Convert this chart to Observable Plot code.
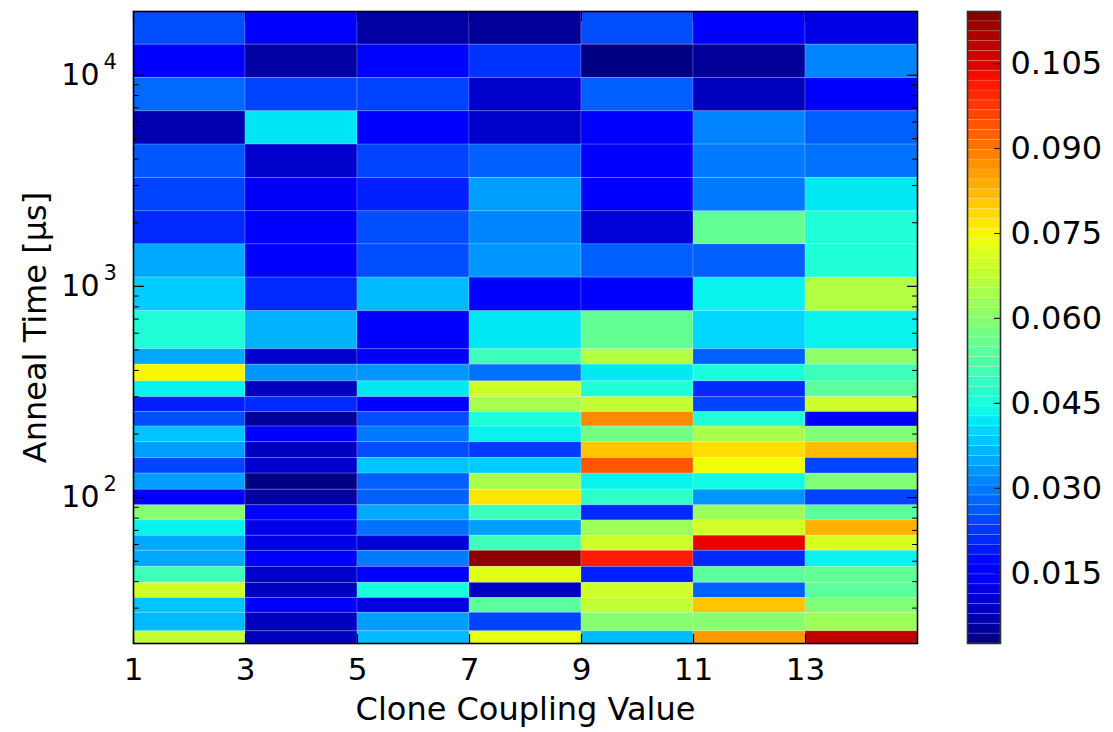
<!DOCTYPE html>
<html>
<head>
<meta charset="utf-8">
<script src="https://cdn.jsdelivr.net/npm/d3@7"></script>
<script src="https://cdn.jsdelivr.net/npm/@observablehq/plot@0.6"></script>
<style>
  html, body { margin: 0; padding: 0; background: #fff; }
  #wrap { position: relative; width: 1113px; height: 732px; overflow: hidden; font-family: "DejaVu Sans", sans-serif; }
  #main { position: absolute; left: 0; top: 0; }
  #cbar { position: absolute; left: 950px; top: 0; }
</style>
</head>
<body>
<div id="wrap"><div id="main"></div><div id="cbar"></div></div>
<script>
// ---- data ----
const xEdges = [1, 3, 5, 7, 9, 11, 13, 15];           // Clone Coupling Value bins
const xTicks = [1, 3, 5, 7, 9, 11, 13];
// Anneal time bin edges (µs), top -> bottom
const yEdges = [20000, 13930, 9690, 6740, 4690, 3260, 2265, 1580, 1100, 763, 504, 426, 355, 299, 254,
                217, 183, 154, 130, 109, 92, 78, 66, 56, 47, 39.5, 33.5, 28.5, 23.3, 20.4];
const yMajor = [100, 1000, 10000];
const yExp = ["2", "3", "4"];
const yMinor = [30, 40, 50, 60, 70, 80, 90, 200, 300, 400, 500, 600, 700, 800, 900,
                2000, 3000, 4000, 5000, 6000, 7000, 8000, 9000];
// cell values per column (rows top -> bottom)
const col1 = [0.025, 0.015, 0.028, 0.0073, 0.026, 0.024, 0.021, 0.035, 0.039, 0.046, 0.035, 0.075, 0.043, 0.020, 0.025, 0.038, 0.034, 0.024, 0.034, 0.016, 0.060, 0.043, 0.035, 0.035, 0.050, 0.0696, 0.038, 0.037, 0.068];
const col2 = [0.016, 0.006, 0.024, 0.0417, 0.010, 0.014, 0.015, 0.016, 0.021, 0.036, 0.010, 0.033, 0.0087, 0.021, 0.005, 0.016, 0.0087, 0.010, 0.003, 0.006, 0.015, 0.0126, 0.0126, 0.015, 0.010, 0.0087, 0.015, 0.0087, 0.0087];
const col3 = [0.006, 0.017, 0.024, 0.015, 0.024, 0.020, 0.025, 0.025, 0.037, 0.015, 0.016, 0.033, 0.042, 0.016, 0.025, 0.030, 0.025, 0.038, 0.027, 0.027, 0.035, 0.029, 0.011, 0.030, 0.015, 0.045, 0.012, 0.034, 0.037];
const col4 = [0.005, 0.022, 0.010, 0.010, 0.027, 0.034, 0.031, 0.033, 0.016, 0.042, 0.050, 0.029, 0.0696, 0.0645, 0.046, 0.043, 0.023, 0.039, 0.0645, 0.077, 0.050, 0.034, 0.050, 0.113, 0.072, 0.009, 0.054, 0.024, 0.073];
const col5 = [0.025, 0.003, 0.027, 0.016, 0.015, 0.015, 0.011, 0.027, 0.016, 0.055, 0.066, 0.042, 0.046, 0.068, 0.088, 0.057, 0.081, 0.094, 0.043, 0.048, 0.021, 0.063, 0.0696, 0.101, 0.020, 0.0696, 0.068, 0.060, 0.037];
const col6 = [0.016, 0.005, 0.0087, 0.031, 0.030, 0.030, 0.055, 0.027, 0.043, 0.040, 0.027, 0.045, 0.021, 0.024, 0.046, 0.0645, 0.078, 0.074, 0.044, 0.033, 0.063, 0.070, 0.104, 0.021, 0.054, 0.027, 0.081, 0.060, 0.086];
const col7 = [0.0126, 0.031, 0.015, 0.027, 0.029, 0.042, 0.046, 0.046, 0.066, 0.043, 0.061, 0.050, 0.054, 0.0696, 0.015, 0.059, 0.082, 0.024, 0.059, 0.024, 0.054, 0.083, 0.071, 0.043, 0.055, 0.054, 0.059, 0.063, 0.108];
const columns = [col1, col2, col3, col4, col5, col6, col7];
const cDomain = [0.0026, 0.1142];
const cTicks = [0.015, 0.030, 0.045, 0.060, 0.075, 0.090, 0.105];

// ---- jet colormap ----
const jetR = [[0, 0], [0.35, 0], [0.66, 1], [0.89, 1], [1, 0.5]];
const jetG = [[0, 0], [0.125, 0], [0.375, 1], [0.64, 1], [0.91, 0], [1, 0]];
const jetB = [[0, 0.5], [0.11, 1], [0.34, 1], [0.65, 0], [1, 0]];
function seg(pts, t) {
  for (let i = 1; i < pts.length; i++) {
    if (t <= pts[i][0]) {
      const [t0, v0] = pts[i - 1], [t1, v1] = pts[i];
      return v0 + (v1 - v0) * (t - t0) / (t1 - t0);
    }
  }
  return pts[pts.length - 1][1];
}
function jet(t) {
  t = Math.max(0, Math.min(1, t));
  const c = v => Math.round(255 * v);
  return `rgb(${c(seg(jetR, t))},${c(seg(jetG, t))},${c(seg(jetB, t))})`;
}

// ---- cells ----
const cells = [];
columns.forEach((col, ci) => {
  col.forEach((v, ri) => {
    cells.push({x1: xEdges[ci], x2: xEdges[ci + 1], y1: yEdges[ri + 1], y2: yEdges[ri], v});
  });
});

const tickShape = {draw(context, l) { context.moveTo(0, 0); context.lineTo(0, -l); }};
const font = "DejaVu Sans";

const main = Plot.plot({
  width: 950, height: 732,
  marginLeft: 133, marginRight: 33, marginTop: 11, marginBottom: 89,
  style: {fontFamily: font, background: "white", color: "black"},
  x: {domain: [1, 15], axis: null},
  y: {type: "log", domain: [20.4, 20000], axis: null},
  color: {type: "linear", domain: cDomain, interpolate: jet, clamp: true},
  marks: [
    Plot.rect(cells, {x1: "x1", x2: "x2", y1: "y1", y2: "y2", fill: "v", stroke: "white", strokeOpacity: 0.18, strokeWidth: 1}),
    // inward ticks
    Plot.vector(yMajor, {x: 1, y: d => d, length: 10, rotate: 90, anchor: "start", shape: tickShape, stroke: "black", strokeWidth: 1.2}),
    Plot.vector(yMinor, {x: 1, y: d => d, length: 5, rotate: 90, anchor: "start", shape: tickShape, stroke: "black", strokeWidth: 1}),
    Plot.vector(yMajor, {x: 15, y: d => d, length: 10, rotate: -90, anchor: "start", shape: tickShape, stroke: "black", strokeWidth: 1.2}),
    Plot.vector(yMinor, {x: 15, y: d => d, length: 5, rotate: -90, anchor: "start", shape: tickShape, stroke: "black", strokeWidth: 1}),
    Plot.vector(xTicks, {x: d => d, y: 20000, length: 9, rotate: 180, anchor: "start", shape: tickShape, stroke: "black", strokeWidth: 1.2}),
    Plot.vector(xTicks, {x: d => d, y: 20.4, length: 9, rotate: 0, anchor: "start", shape: tickShape, stroke: "black", strokeWidth: 1.2}),
    Plot.frame({stroke: "black", strokeWidth: 1.6}),
    Plot.axisX(xTicks, {tickSize: 0, tickPadding: 14, fontSize: 31, label: null, fill: "black"}),
    // y tick labels: 10^k
    Plot.text(yMajor, {x: 1, y: d => d, text: () => "10", textAnchor: "end", lineAnchor: "middle", dx: -34, fontSize: 30, fill: "black"}),
    Plot.text(yMajor, {x: 1, y: d => d, text: (d, i) => yExp[i], textAnchor: "start", lineAnchor: "middle", dx: -30, dy: -13, fontSize: 21, fill: "black"}),
    Plot.text(["Clone Coupling Value"], {frameAnchor: "bottom", textAnchor: "middle", dy: 66, fontSize: 32, fill: "black", lineAnchor: "middle"}),
    Plot.text(["Anneal Time [μs]"], {frameAnchor: "left", textAnchor: "middle", dx: -98, rotate: -90, fontSize: 32, fill: "black", lineAnchor: "middle"})
  ]
});
document.getElementById("main").appendChild(main);

// ---- colorbar ----
const nBands = 64;
const bands = d3.range(nBands).map(i => {
  const a = cDomain[0] + (cDomain[1] - cDomain[0]) * i / nBands;
  const b = cDomain[0] + (cDomain[1] - cDomain[0]) * (i + 1) / nBands;
  return {y1: a, y2: b, mid: (a + b) / 2};
});
const cbar = Plot.plot({
  width: 163, height: 732,
  marginLeft: 17, marginRight: 113, marginTop: 11, marginBottom: 89,
  style: {fontFamily: font, background: "white", color: "black"},
  x: {domain: [0, 1], axis: null},
  y: {domain: cDomain, axis: null},
  color: {type: "linear", domain: cDomain, interpolate: jet, clamp: true},
  marks: [
    Plot.rect(bands, {x1: 0, x2: 1, y1: "y1", y2: "y2", fill: "mid", stroke: "white", strokeOpacity: 0.12, strokeWidth: 1}),
    Plot.vector(cTicks, {x: 1, y: d => d, length: 6, rotate: -90, anchor: "start", shape: tickShape, stroke: "#222", strokeWidth: 1.2}),
    Plot.frame({stroke: "#333", strokeWidth: 1.6}),
    Plot.axisY(cTicks, {anchor: "right", tickSize: 0, tickPadding: 10, tickFormat: d3.format(".3f"), fontSize: 32, label: null, fill: "black"})
  ]
});
document.getElementById("cbar").appendChild(cbar);
</script>
</body>
</html>
